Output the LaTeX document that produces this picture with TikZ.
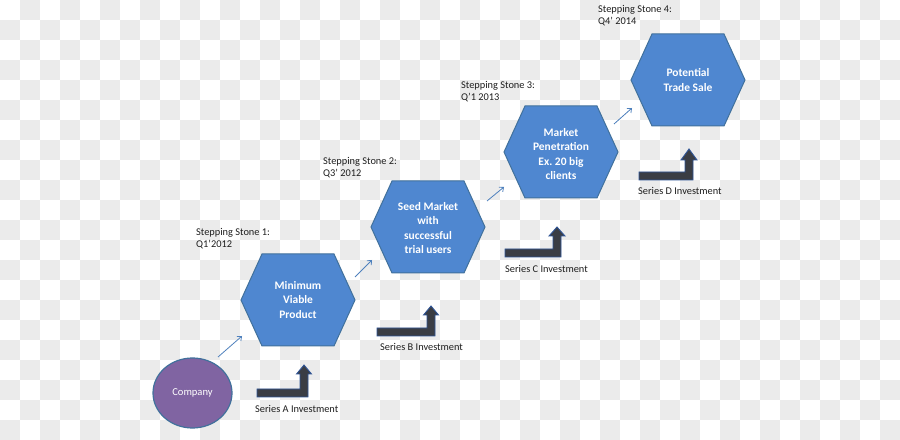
\documentclass[tikz,border=0pt]{standalone}
\usepackage{fontspec}
\setmainfont{Carlito}
\usetikzlibrary{shapes.geometric,arrows.meta}
\frenchspacing
\definecolor{checkgray}{HTML}{EBEBEB}
\definecolor{hexfillc}{HTML}{4F87D0}
\definecolor{hexline}{HTML}{41719C}
\definecolor{purplec}{HTML}{8064A2}
\definecolor{barfill}{HTML}{3A3D44}
\definecolor{barline}{HTML}{2F5597}
\definecolor{thinarrow}{HTML}{4F81BD}
\definecolor{labeltext}{HTML}{1E1E1E}
\tikzset{
  hexbody/.style={fill=hexfillc, draw=hexline, line width=1bp, line join=miter},
  hexa/.pic={\path[hexbody] (-57,0) -- (-36,-46) -- (36,-46) -- (57,0) -- (36,46) -- (-36,46) -- cycle;},
  hextext/.style={text=white, font=\bfseries\fontsize{11.5}{14.5}\selectfont, align=center, inner sep=0pt},
  stonelabel/.style={text=labeltext, font=\fontsize{10.4}{12}\selectfont, align=left, inner sep=0pt, anchor=west},
  serieslabel/.style={text=labeltext, font=\fontsize{10.4}{12}\selectfont, inner sep=0pt, anchor=west},
  bentbar/.style={fill=barfill, draw=barline, line width=0.9bp, line join=miter},
  stepline/.style={draw=thinarrow, line width=0.8bp, -{Straight Barb[length=3.5bp,width=6bp]}},
  companystyle/.style={ellipse, fill=purplec, draw=hexline, line width=1.2bp, minimum width=79bp, minimum height=70bp, inner sep=0pt, text=white, font=\fontsize{10.6}{12}\selectfont}
}
\begin{document}
\begin{tikzpicture}[x=1bp,y=-1bp]
\useasboundingbox (0,0) rectangle (900,440);
% checkerboard background
\fill[white] (0,0) rectangle (900,440);
\foreach \i in {0,...,44}{
  \foreach \j in {0,...,21}{
    \pgfmathparse{int(mod(\i+\j,2))}
    \ifnum\pgfmathresult=1
      \fill[checkgray] (\i*20,\j*20) rectangle ++(20,20);
    \fi
  }
}
% hexagons
\pic at (298,300) {hexa};
\pic at (428,227) {hexa};
\pic at (561,152) {hexa};
\pic at (688,80) {hexa};
\node[hextext] (h1) at (298,300) {Minimum\\Viable\\Product};
\node[hextext] (h2) at (428,228) {Seed Market\\with\\successful\\trial users};
\node[hextext] (h3) at (561,154) {Market\\Penetration\\Ex. 20 big\\clients};
\node[hextext] (h4) at (688,80) {Potential\\Trade Sale};
% company
\node[companystyle] (co) at (192.5,393) {Company};
% stepping stone labels
\node[stonelabel] (s1) at (196,239) {Stepping Stone 1:\\Q1'2012};
\node[stonelabel] (s2) at (323,168) {Stepping Stone 2:\\Q3' 2012};
\node[stonelabel] (s3) at (461,92) {Stepping Stone 3:\\Q'1 2013};
\node[stonelabel] (s4) at (598,15.5) {Stepping Stone 4:\\Q4' 2014};
% series labels
\node[serieslabel] (la) at (255,409) {Series A Investment};
\node[serieslabel] (lb) at (380,347) {Series B Investment};
\node[serieslabel] (lc) at (505,269) {Series C Investment};
\node[serieslabel] (ld) at (638,191) {Series D Investment};
% bent investment arrows
\path[bentbar] (257,389) -- (300,389) -- (300,374) -- (296.5,374) -- (304,365) -- (311.5,374) -- (308,374) -- (308,397) -- (257,397) -- cycle;
\path[bentbar] (377,328) -- (427,328) -- (427,315) -- (423.5,315) -- (431,306) -- (438.5,315) -- (435,315) -- (435,336) -- (377,336) -- cycle;
\path[bentbar] (505,249) -- (553,249) -- (553,236) -- (549,236) -- (557,227) -- (565,236) -- (561,236) -- (561,257) -- (505,257) -- cycle;
\path[bentbar] (639,172) -- (685,172) -- (685,160) -- (681,160) -- (689,149) -- (697,160) -- (693,160) -- (693,180) -- (639,180) -- cycle;
% thin step arrows
\coordinate (a1s) at (218,357); \coordinate (a1e) at (242,336);
\coordinate (a2s) at (355,277); \coordinate (a2e) at (372,260);
\coordinate (a3s) at (487,201); \coordinate (a3e) at (504,187);
\coordinate (a4s) at (614,124); \coordinate (a4e) at (632,108);
\draw[stepline] (a1s) -- (a1e);
\draw[stepline] (a2s) -- (a2e);
\draw[stepline] (a3s) -- (a3e);
\draw[stepline] (a4s) -- (a4e);
\end{tikzpicture}
\end{document}
